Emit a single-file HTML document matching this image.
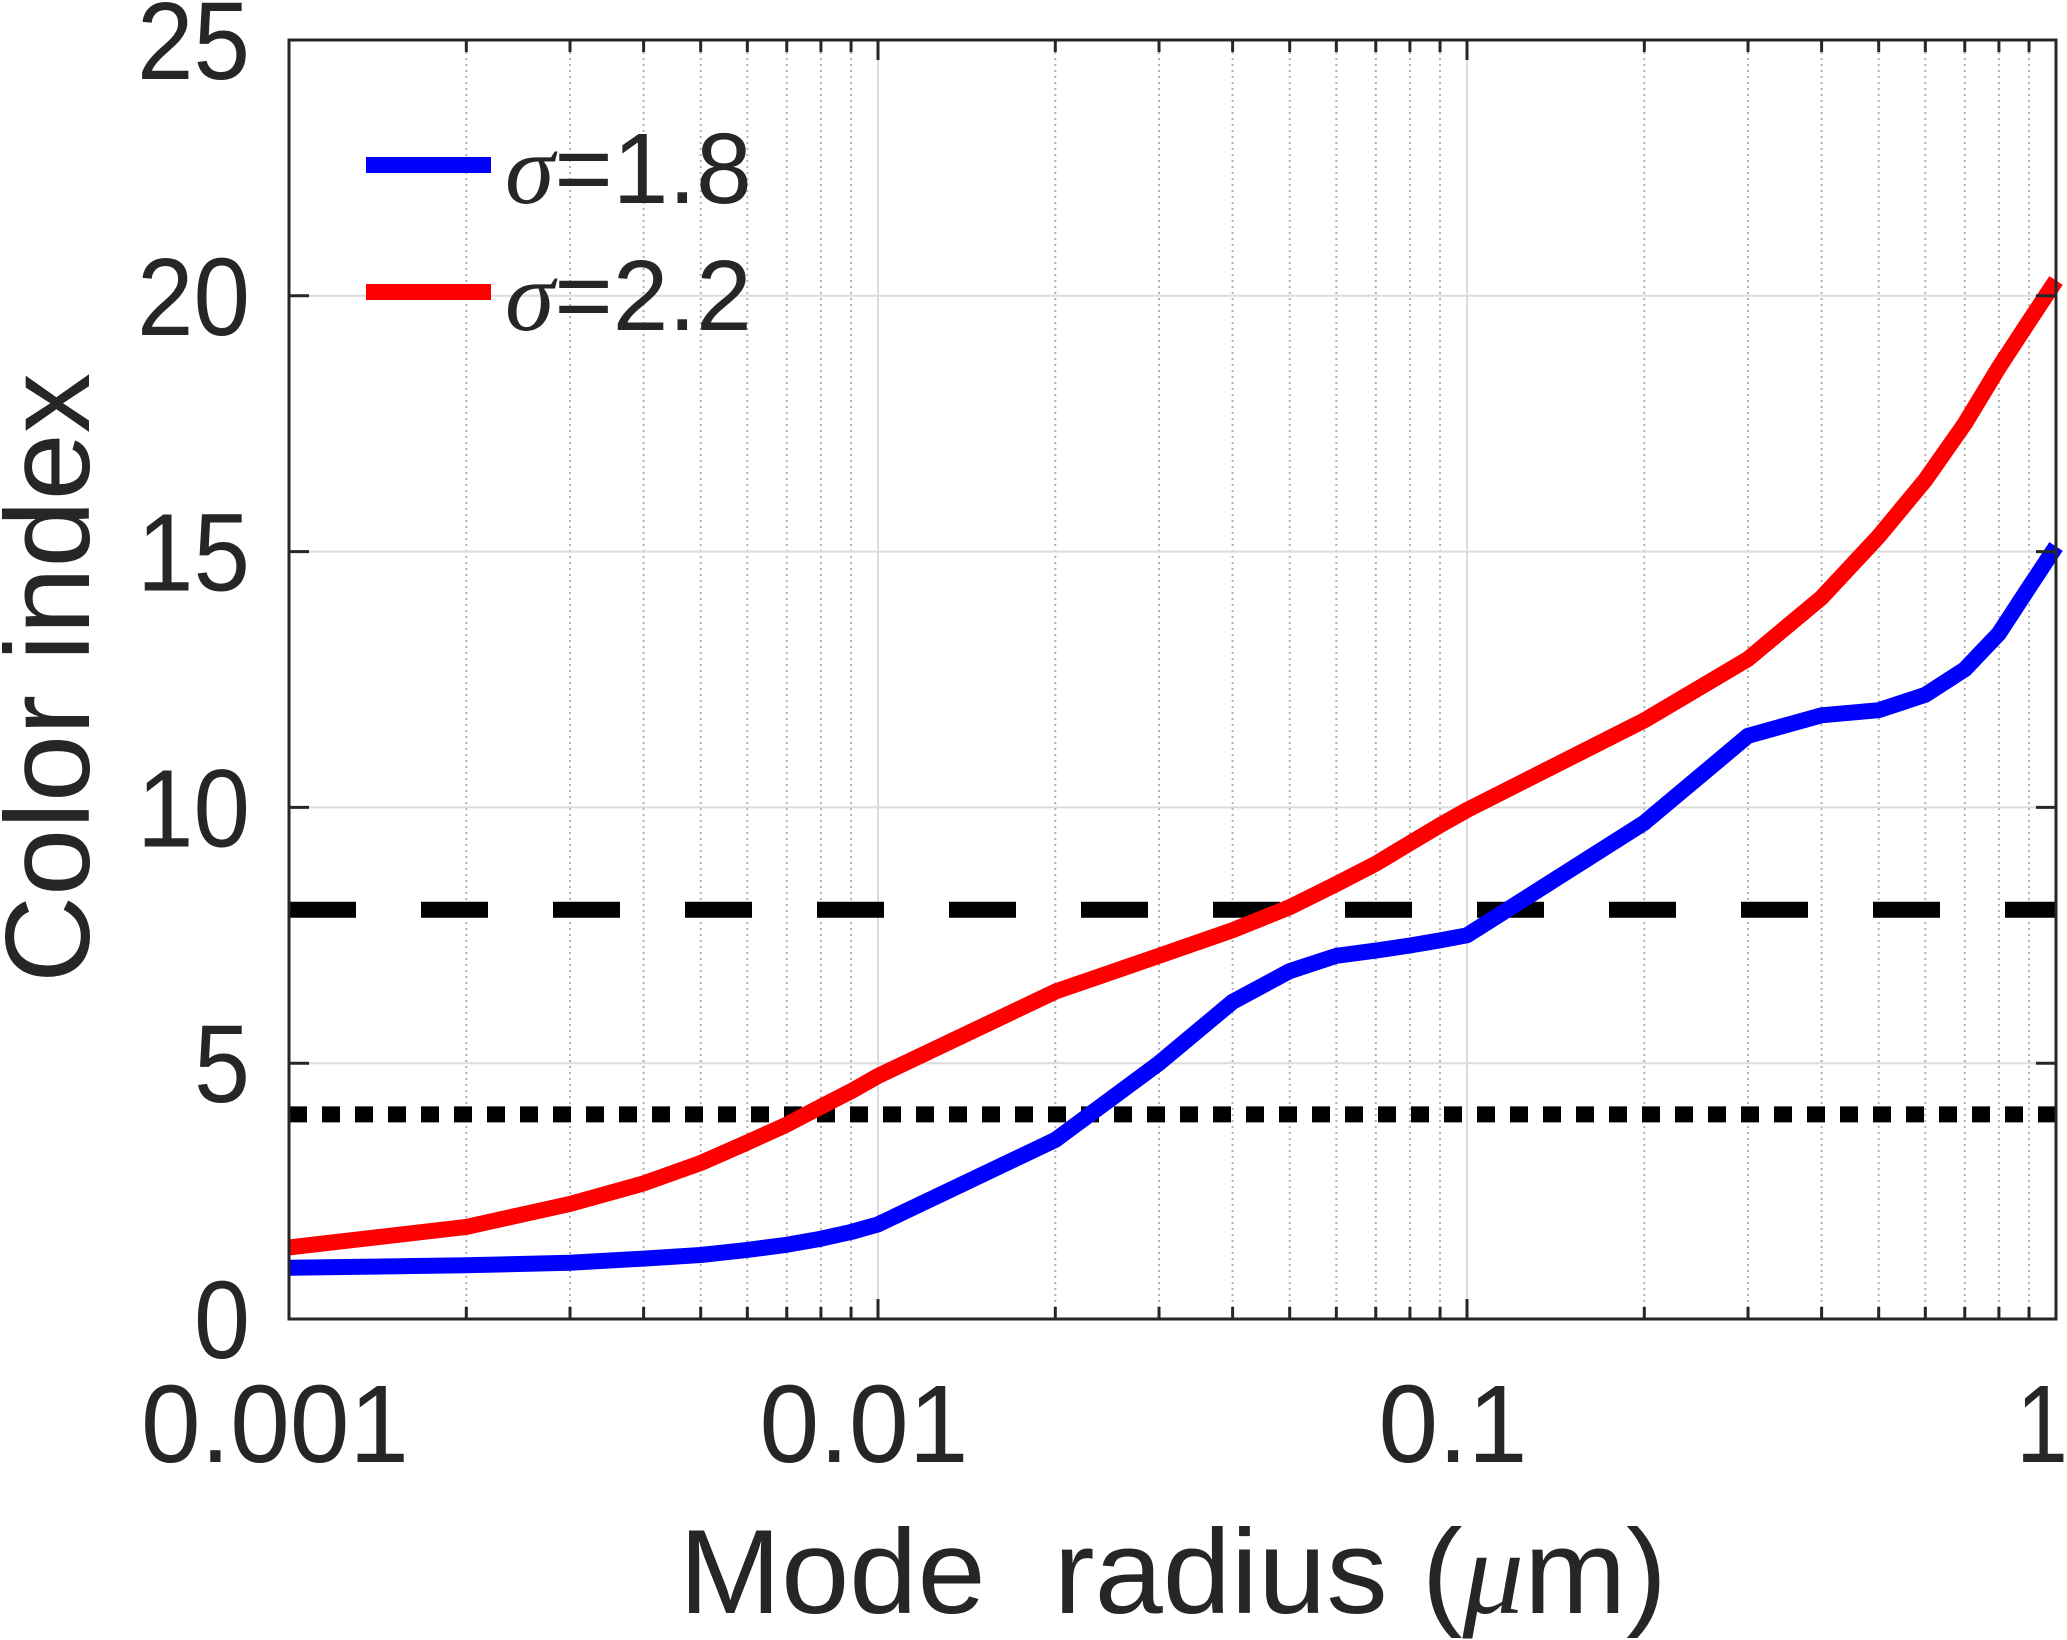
<!DOCTYPE html>
<html><head><meta charset="utf-8"><style>
html,body{margin:0;padding:0;background:#fff;}
svg{display:block;}
text{font-family:"Liberation Sans",Arial,sans-serif;fill:#262626;}
</style></head><body>
<svg id="chart" width="2067" height="1640" viewBox="0 0 2067 1640" xmlns="http://www.w3.org/2000/svg">
<rect x="0" y="0" width="2067" height="1640" fill="#fff"/>
<g id="grid"></g>
<g id="refs"></g>
<g id="series"></g>
<g id="axes"></g>
<g id="labels"></g>
<text x="1173" y="1613" font-size="120" text-anchor="middle" textLength="988" lengthAdjust="spacingAndGlyphs" xml:space="preserve">Mode  radius (<tspan font-family="Liberation Serif" font-style="italic">μ</tspan>m)</text>
<text transform="translate(89,678) rotate(-90)" x="0" y="0" font-size="120" text-anchor="middle" textLength="610" lengthAdjust="spacingAndGlyphs">Color index</text>
<g>
<line x1="366" y1="165" x2="491" y2="165" stroke="#0000ff" stroke-width="16"/>
<text x="505" y="203" font-size="100"><tspan font-family="Liberation Serif" font-style="italic">σ</tspan>=1.8</text>
<line x1="366" y1="292" x2="491" y2="292" stroke="#ff0000" stroke-width="16"/>
<text x="505" y="330" font-size="100"><tspan font-family="Liberation Serif" font-style="italic">σ</tspan>=2.2</text>
</g>
</svg>
<script>
const radii = [0.001,0.002,0.003,0.004,0.005,0.006,0.007,0.008,0.009,0.01,0.02,0.03,0.04,0.05,0.06,0.07,0.08,0.09,0.1,0.2,0.3,0.4,0.5,0.6,0.7,0.8,0.9,1.0];
const sigma18 = [1.0,1.05,1.1,1.18,1.25,1.35,1.45,1.57,1.7,1.85,3.5,5.0,6.2,6.8,7.1,7.2,7.3,7.4,7.5,9.7,11.4,11.8,11.9,12.2,12.7,13.4,14.3,15.1];
const sigma22 = [1.4,1.8,2.25,2.65,3.05,3.45,3.8,4.15,4.45,4.75,6.4,7.1,7.6,8.05,8.5,8.9,9.3,9.65,9.95,11.7,12.9,14.1,15.3,16.4,17.5,18.6,19.5,20.3];
const yTicks = [0,5,10,15,20,25];
const yTickLabels = ["0","5","10","15","20","25"];
const xTicks = [0.001,0.01,0.1,1];
const xTickLabels = ["0.001","0.01","0.1","1"];
const refLevels = [8,4];

const NS = "http://www.w3.org/2000/svg";
const L = 289, R = 2056, T = 40, B = 1319;
const xMin = -3, xMax = 0, yMin = 0, yMax = 25;
function xs(v){ return L + (Math.log10(v) - xMin) / (xMax - xMin) * (R - L); }
function ys(v){ return B - (v - yMin) / (yMax - yMin) * (B - T); }
function mk(tag, attrs, parent){
  const e = document.createElementNS(NS, tag);
  for (const k in attrs) e.setAttribute(k, attrs[k]);
  parent.appendChild(e);
  return e;
}
const grid = document.getElementById('grid');
const axes = document.getElementById('axes');
const labels = document.getElementById('labels');
const refs = document.getElementById('refs');
const series = document.getElementById('series');

for (let d = -3; d < 0; d++) {
  for (let m = 2; m <= 9; m++) {
    const x = xs(m * Math.pow(10, d));
    const g = mk('line', {x1:x, y1:T, x2:x, y2:B, stroke:'#b0b0b0', 'stroke-width':2, 'stroke-dasharray':'2 4'}, grid);
    
    
    const t1 = mk('line', {x1:x, y1:B, x2:x, y2:B-12, stroke:'#262626', 'stroke-width':3}, axes);
    
    
    const t2 = mk('line', {x1:x, y1:T, x2:x, y2:T+12, stroke:'#262626', 'stroke-width':3}, axes);
    
    
  }
}
xTicks.forEach((v, i) => {
  const x = xs(v);
  if (i > 0 && i < xTicks.length - 1) {
    const g = mk('line', {x1:x, y1:T, x2:x, y2:B, stroke:'#dcdcdc', 'stroke-width':2}, grid);
    
    
  }
  const t1 = mk('line', {x1:x, y1:B, x2:x, y2:B-20, stroke:'#262626', 'stroke-width':3}, axes);
  
  
  const t2 = mk('line', {x1:x, y1:T, x2:x, y2:T+20, stroke:'#262626', 'stroke-width':3}, axes);
  
  
  const s = xTickLabels[i];
  const tl = mk('text', {x: x - 14, y: 1462, 'font-size': 110, 'text-anchor':'middle', textLength: Math.round(s.length === 1 ? 52 : (s.replace('.','').length * 0.556 + 0.278) * 110 * 0.975), lengthAdjust:'spacingAndGlyphs'}, labels);
  tl.textContent = s;
  
  
});
yTicks.forEach((v, i) => {
  const y = ys(v);
  if (v > yMin && v < yMax) {
    const g = mk('line', {x1:L, y1:y, x2:R, y2:y, stroke:'#dcdcdc', 'stroke-width':2}, grid);
    
    
  }
  const t1 = mk('line', {x1:L, y1:y, x2:L+20, y2:y, stroke:'#262626', 'stroke-width':3}, axes);
  
  
  const t2 = mk('line', {x1:R, y1:y, x2:R-20, y2:y, stroke:'#262626', 'stroke-width':3}, axes);
  
  
  const s = yTickLabels[i];
  const tl = mk('text', {x: 250, y: y + 39, 'font-size': 110, 'text-anchor':'end', textLength: Math.round(s.length * 0.556 * 110 * 0.92), lengthAdjust:'spacingAndGlyphs'}, labels);
  tl.textContent = s;
  
  
});
const styles = [{dash:'67 65', w:16, name:'threshold-dashed-line'}, {dash:'18 15', w:16, name:'threshold-dotted-line'}];
refLevels.forEach((v, i) => {
  const y = ys(v);
  const l = mk('line', {x1:L, y1:y, x2:R, y2:y, stroke:'#000', 'stroke-width':styles[i].w, 'stroke-dasharray':styles[i].dash}, refs);
  
  
});
function drawSeries(vals, color, name){
  const d = radii.map((r, i) => (i ? 'L' : 'M') + xs(r).toFixed(1) + ' ' + ys(vals[i]).toFixed(1)).join(' ');
  const p = mk('path', {d: d, fill:'none', stroke: color, 'stroke-width': 16, 'stroke-linejoin':'round'}, series);
  
  
}
drawSeries(sigma18, '#0000ff', 'line-sigma-1-8');
drawSeries(sigma22, '#ff0000', 'line-sigma-2-2');
const box = mk('rect', {x:L, y:T, width:R-L, height:B-T, fill:'none', stroke:'#262626', 'stroke-width':3}, axes);


</script>
</body></html>
